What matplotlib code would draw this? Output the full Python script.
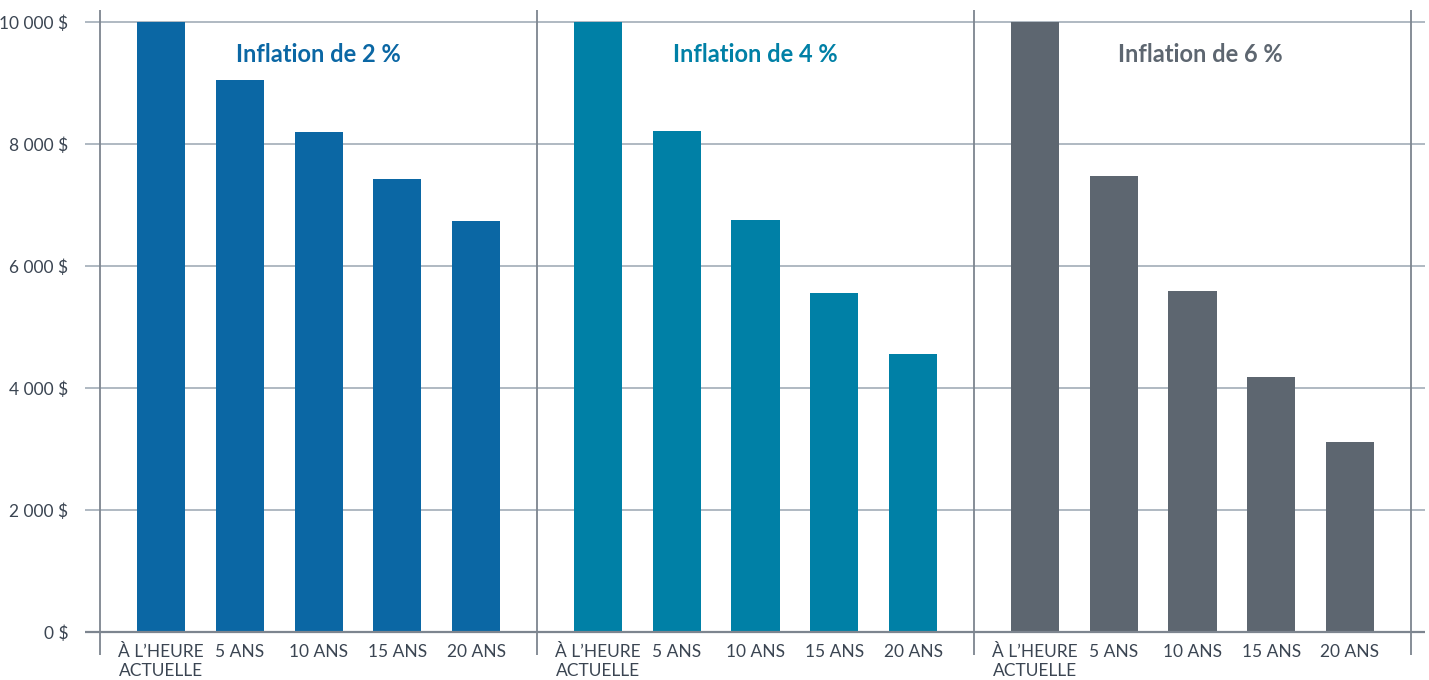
import matplotlib
matplotlib.use("Agg")
import matplotlib.pyplot as plt

categories = ["À L\u2019HEURE\nACTUELLE", "5 ANS", "10 ANS", "15 ANS", "20 ANS"]
titles = ["Inflation de 2 %", "Inflation de 4 %", "Inflation de 6 %"]
values_2 = [10000, 9057, 8203, 7430, 6730]
values_4 = [10000, 8219, 6756, 5553, 4564]
values_6 = [10000, 7473, 5584, 4173, 3118]
series = [values_2, values_4, values_6]
colors = ["#0b67a4", "#0080a6", "#5d6670"]
title_colors = ["#0b67a4", "#0080a6", "#5d6670"]
yticks = [0, 2000, 4000, 6000, 8000, 10000]
ytick_labels = ["0 $", "2 000 $", "4 000 $", "6 000 $", "8 000 $", "10 000 $"]

W = 5.549   # group width in bar-spacing units
off = 0.775
bw = 0.61

fig = plt.figure(figsize=(14.29, 6.8), dpi=100)
H = 680
ax = fig.add_axes([85 / 1429, (680 - 655) / H, (1425 - 85) / 1429, (655 - 10) / H])
ppk = 61.0  # px per 1000
ymin = -(655 - 632) / ppk * 1000
ymax = 10000 + (22 - 10) / ppk * 1000
ax.set_ylim(ymin, ymax)
ax.set_xlim((85 - 100) / 78.75, (1425 - 100) / 78.75)

for s in ax.spines.values():
    s.set_visible(False)

for yv in yticks[1:]:
    ax.axhline(yv, color="#a9b3bd", lw=1.3, zorder=0)
ax.axhline(0, color="#7d858f", lw=1.6, zorder=3)

title_dx = [0.0, 0.0, 0.1]
xt, xl = [], []
for g, (vals, col) in enumerate(zip(series, colors)):
    base = g * W
    xs = [base + off + i for i in range(len(vals))]
    ax.bar(xs, vals, width=bw, color=col, zorder=2)
    xt += xs
    xl += categories
    ax.text(base + W / 2 + title_dx[g], 9460, titles[g], ha="center", va="center",
            fontsize=17, fontweight="bold", color=title_colors[g],
            family=["Lato", "DejaVu Sans"])
for g in range(4):
    ax.axvline(g * W, color="#7d858f", lw=1.3, zorder=3)

ax.set_yticks(yticks)
ax.set_yticklabels(ytick_labels, fontsize=12.5, color="#3b4552", family=["Lato", "DejaVu Sans"])
ax.tick_params(axis="y", length=0, pad=12)
ax.set_xticks(xt)
ax.set_xticklabels(xl, fontsize=12.5, color="#3b4552", family=["Lato", "DejaVu Sans"],
                   linespacing=1.25, va="top")
ax.tick_params(axis="x", length=0, pad=-8)

fig.savefig("out.png", dpi=100)
